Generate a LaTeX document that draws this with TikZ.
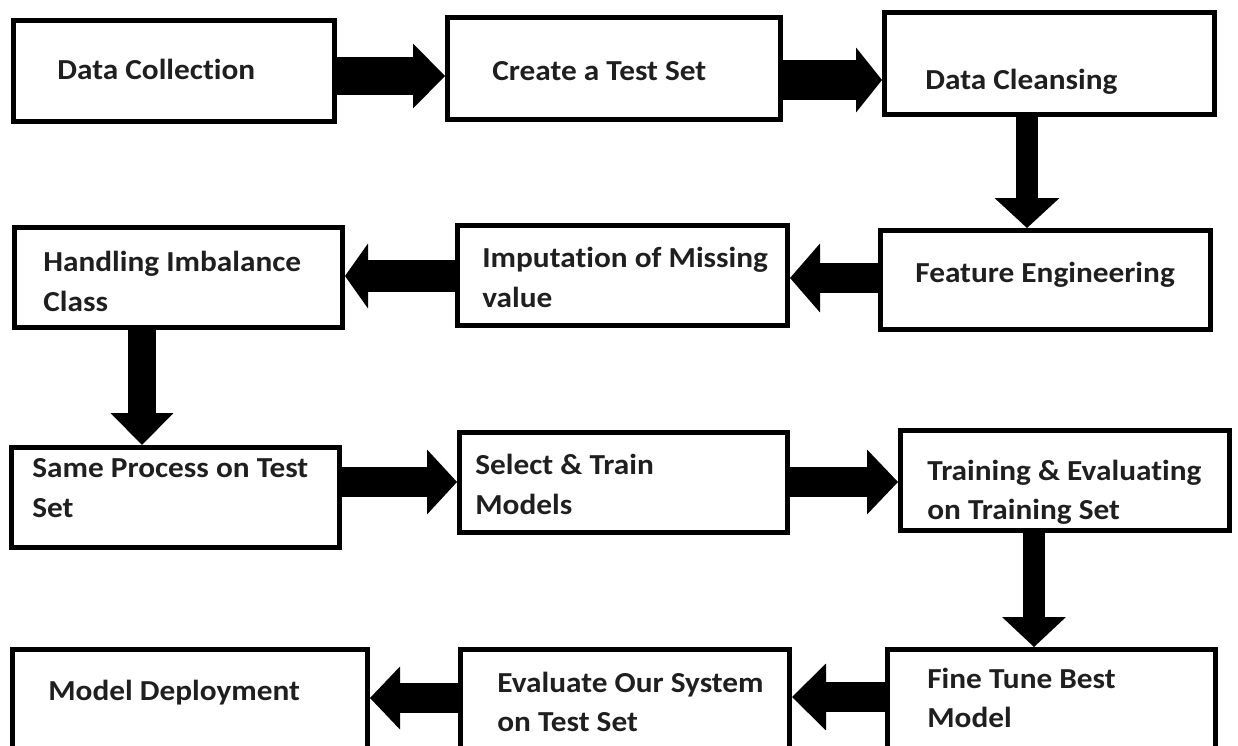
\documentclass[tikz,border=0pt]{standalone}
\usepackage{fontspec}
\setmainfont{Carlito}[FakeStretch=1.08, Ligatures=NoCommon]
\usetikzlibrary{arrows.meta}
\newcommand\boxnode[5]{%
  \pgfmathsetmacro\bw{(#4-#2-5)*0.02}%
  \pgfmathsetmacro\bh{(#5-#3-5)*0.02}%
  \node[box, minimum width=\bw cm, minimum height=\bh cm] (#1) at ({(#2+#4)/2},{(#3+#5)/2}) {};}
\tikzset{
  box/.style={draw=black, line width=0.1cm, rectangle, inner sep=0pt},
  lbl/.style={inner sep=0pt, anchor=base west, text=black!88,
              font=\fontsize{16.5}{22.2}\selectfont\bfseries},
  fat/.style n args={3}{draw=black, line width=#1cm,
              -{Triangle[length=#3cm, width=#2cm, line width=0pt]}}
}
\begin{document}
\begin{tikzpicture}[x=0.02cm, y=-0.02cm]
\useasboundingbox (0,0) rectangle (1238,746);
\clip (0,0) rectangle (1238,746);
% boxes
\boxnode{dc}{11}{18}{337}{124}
\boxnode{ct}{445}{15}{783}{122}
\boxnode{cl}{882}{10}{1217}{117}
\boxnode{hi}{12}{225}{345}{330}
\boxnode{im}{455}{223}{790}{328}
\boxnode{fe}{878}{228}{1213}{332}
\boxnode{sp}{9}{445}{342}{550}
\boxnode{st}{457}{430}{790}{535}
\boxnode{te}{898}{428}{1232}{533}
\boxnode{md}{10}{647}{370}{770}
\boxnode{ev}{458}{647}{792}{770}
\boxnode{ft}{885}{647}{1218}{770}
% labels
\node[lbl] (tdc) at (57,80) {Data Collection};
\node[lbl] (tct) at (492,81) {Create a Test Set};
\node[lbl] (tcl) at (925,90) {Data Cleansing};
\node[lbl] (thi) at (43,272) {\begin{tabular}[t]{@{}l@{}}Handling Imbalance\\Class\end{tabular}};
\node[lbl] (tim) at (482,268) {\begin{tabular}[t]{@{}l@{}}Imputation of Missing\\value\end{tabular}};
\node[lbl] (tfe) at (915,283) {Feature Engineering};
\node[lbl] (tsp) at (32,478) {\begin{tabular}[t]{@{}l@{}}Same Process on Test\\Set\end{tabular}};
\node[lbl] (tst) at (475,475) {\begin{tabular}[t]{@{}l@{}}Select \& Train\\Models\end{tabular}};
\node[lbl] (tte) at (927,480) {\begin{tabular}[t]{@{}l@{}}Training \& Evaluating\\on Training Set\end{tabular}};
\node[lbl] (tmd) at (48,700) {Model Deployment};
\node[lbl] (tev) at (497,692) {\begin{tabular}[t]{@{}l@{}}Evaluate Our System\\on Test Set\end{tabular}};
\node[lbl] (tft) at (927,688) {\begin{tabular}[t]{@{}l@{}}Fine Tune Best\\Model\end{tabular}};
% arrows
\draw[fat={0.76}{1.30}{0.64}] (dc.east |- 0,76) -- (ct.west |- 0,76);
\draw[fat={0.80}{1.30}{0.52}] (ct.east |- 0,80) -- (cl.west |- 0,80);
\draw[fat={0.44}{1.30}{0.60}] (1027,0 |- cl.south) -- (1027,0 |- fe.north);
\draw[fat={0.60}{1.38}{0.60}] (fe.west |- 0,278) -- (im.east |- 0,278);
\draw[fat={0.64}{1.30}{0.46}] (im.west |- 0,276) -- (hi.east |- 0,276);
\draw[fat={0.58}{1.26}{0.64}] (142,0 |- hi.south) -- (142,0 |- sp.north);
\draw[fat={0.62}{1.30}{0.60}] (sp.east |- 0,482) -- (st.west |- 0,482);
\draw[fat={0.62}{1.30}{0.62}] (st.east |- 0,482) -- (te.west |- 0,482);
\draw[fat={0.44}{1.28}{0.60}] (1034,0 |- te.south) -- (1034,0 |- ft.north);
\draw[fat={0.62}{1.34}{0.68}] (ft.west |- 0,697) -- (ev.east |- 0,697);
\draw[fat={0.60}{1.26}{0.60}] (ev.west |- 0,698) -- (md.east |- 0,698);
\end{tikzpicture}
\end{document}
